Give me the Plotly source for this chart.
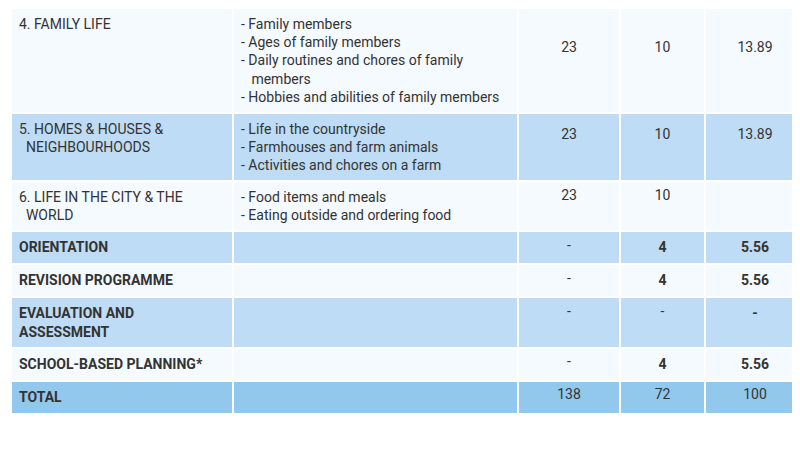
import plotly.graph_objects as go

units = ["<br><br>4. FAMILY LIFE", "5. HOMES & HOUSES &<br>&nbsp;&nbsp;NEIGHBOURHOODS", "6. LIFE IN THE CITY & THE<br>&nbsp;&nbsp;WORLD",
         "<b>ORIENTATION</b>", "<b>REVISION PROGRAMME</b>", "<b>EVALUATION AND ASSESSMENT</b>",
         "<b>SCHOOL-BASED PLANNING*</b>", "<b>TOTAL</b>"]
topics = ["- Family members<br>- Ages of family members<br>- Daily routines and chores of family<br>&nbsp;&nbsp;&nbsp;members<br>- Hobbies and abilities of family members",
          "- Life in the countryside<br>- Farmhouses and farm animals<br>- Activities and chores on a farm",
          "- Food items and meals<br>- Eating outside and ordering food",
          "", "", "", "", ""]
periods = ["<br><br>23", "<br>23", "23", "-", "-", "-", "-", "138"]
weeks = ["<br><br>10", "<br>10", "10", "<b>4</b>", "<b>4</b>", "-", "<b>4</b>", "72"]
percent = ["<br><br>13.89", "<br>13.89", "", "<b>5.56</b>", "<b>5.56</b>", "<b>-</b>", "<b>5.56</b>", "100"]

light = "#bedcf5"
white = "#f5faff"
total = "#92c8ec"
row_colors = [white, light, white, light, white, light, white, total]

cols = [units, topics, periods, weeks, percent]
fnt = dict(family="Roboto", size=14, color="#333333")
aligns = ["left", "left", "center", "center", "center"]

fig = go.Figure(go.Table(
    columnwidth=[222, 285, 102, 85, 100],
    header=dict(
        values=[c[0] for c in cols],
        fill_color=row_colors[0],
        line=dict(color="white", width=2),
        align=aligns, font=fnt, height=32,
    ),
    cells=dict(
        values=[c[1:] for c in cols],
        fill_color=[row_colors[1:]] * 5,
        line=dict(color="white", width=2),
        align=aligns, font=fnt, height=33,
    ),
    domain=dict(x=[3/800, 797/800], y=[0, 1]),
))
fig.update_layout(width=800, height=450, margin=dict(l=0, r=0, t=0, b=0),
                  paper_bgcolor="white")
fig.write_html("out.html")
